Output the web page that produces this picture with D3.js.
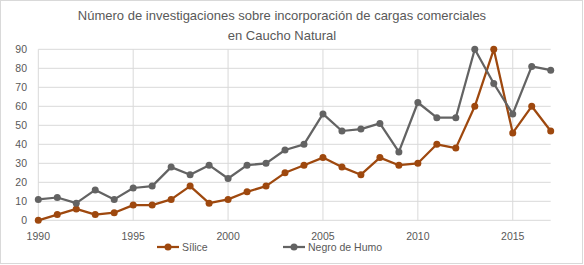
<!DOCTYPE html>
<html lang="es">
<head>
<meta charset="utf-8">
<title>cargas</title>
<script src="https://cdn.jsdelivr.net/npm/d3@7"></script>
<style>
  body { margin: 0; background: #fff; }
  text { font-family: "Liberation Sans", Arial, sans-serif; fill: #595959; }
</style>
</head>
<body>
<script>
var w = 584;
var h = 265;

var years = d3.range(1990, 2018);
var silice = [0, 3, 6, 3, 4, 8, 8, 11, 18, 9, 11, 15, 18, 25, 29, 33, 28, 24, 33, 29, 30, 40, 38, 60, 90, 46, 60, 47];
var negro = [11, 12, 9, 16, 11, 17, 18, 28, 24, 29, 22, 29, 30, 37, 40, 56, 47, 48, 51, 36, 62, 54, 54, 90, 72, 56, 81, 79];
var xTicks = [1990, 1995, 2000, 2005, 2010, 2015];
var yTicks = [0, 10, 20, 30, 40, 50, 60, 70, 80, 90];
var seriesNames = ["Sílice", "Negro de Humo"];
var colors = ["#9E480E", "#636363"];
var titleLines = ["Número  de investigaciones sobre incorporación de cargas comerciales", "en Caucho Natural"];

var xScale = d3.scaleLinear().domain([1990, 2017]).range([38.3, 550.7]);
var yScale = d3.scaleLinear().domain([0, 90]).range([220.3, 49.3]);

var svg = d3.select("body").append("svg")
    .attr("width", w)
    .attr("height", h);

// chart border
svg.append("rect")
    .attr("x", 0.5).attr("y", 0.5)
    .attr("width", w - 2).attr("height", h - 2)
    .attr("fill", "#fff")
    .attr("stroke", "#d9d9d9");

// gridlines
svg.selectAll("line.hgrid")
    .data(yTicks)
    .enter()
    .append("line")
    .attr("class", "hgrid")
    .attr("x1", xScale(1990)).attr("x2", xScale(2017))
    .attr("y1", function(d){ return yScale(d); })
    .attr("y2", function(d){ return yScale(d); })
    .attr("stroke", "#d9d9d9");

svg.selectAll("line.vgrid")
    .data(xTicks)
    .enter()
    .append("line")
    .attr("class", "vgrid")
    .attr("x1", function(d){ return xScale(d); })
    .attr("x2", function(d){ return xScale(d); })
    .attr("y1", yScale(0)).attr("y2", yScale(90))
    .attr("stroke", "#d9d9d9");

// tick labels
svg.selectAll("text.ylab")
    .data(yTicks)
    .enter()
    .append("text")
    .attr("class", "ylab")
    .attr("x", 27)
    .attr("y", function(d){ return yScale(d) + 4; })
    .attr("text-anchor", "end")
    .attr("font-size", "10.5px")
    .text(function(d){ return d; });

svg.selectAll("text.xlab")
    .data(xTicks)
    .enter()
    .append("text")
    .attr("class", "xlab")
    .attr("x", function(d){ return xScale(d); })
    .attr("y", 240)
    .attr("text-anchor", "middle")
    .attr("font-size", "10.5px")
    .text(function(d){ return d; });

// title
svg.selectAll("text.title")
    .data(titleLines)
    .enter()
    .append("text")
    .attr("class", "title")
    .attr("x", 282)
    .attr("y", function(d, i){ return 20 + i * 20; })
    .attr("text-anchor", "middle")
    .attr("font-size", "13px")
    .text(function(d){ return d; });

// series
var series = [silice, negro];
var line = d3.line()
    .x(function(d, i){ return xScale(years[i]); })
    .y(function(d){ return yScale(d); });

series.forEach(function(vals, k){
    svg.append("path")
        .datum(vals)
        .attr("d", line)
        .attr("fill", "none")
        .attr("stroke", colors[k])
        .attr("stroke-width", 2.25)
        .attr("stroke-linejoin", "round");
    svg.selectAll("circle.s" + k)
        .data(vals)
        .enter()
        .append("circle")
        .attr("class", "s" + k)
        .attr("cx", function(d, i){ return xScale(years[i]); })
        .attr("cy", function(d){ return yScale(d); })
        .attr("r", 3.5)
        .attr("fill", colors[k]);
});

// legend
var legendX = [157, 283];
var legend = svg.selectAll("g.legend")
    .data(seriesNames)
    .enter()
    .append("g")
    .attr("class", "legend")
    .attr("transform", function(d, i){ return "translate(" + legendX[i] + ",247)"; });
legend.append("line")
    .attr("x1", 0).attr("x2", 22)
    .attr("stroke", function(d, i){ return colors[i]; })
    .attr("stroke-width", 2.25);
legend.append("circle")
    .attr("cx", 11).attr("r", 3.5)
    .attr("fill", function(d, i){ return colors[i]; });
legend.append("text")
    .attr("x", 25).attr("y", 4)
    .attr("font-size", "10.5px")
    .text(function(d){ return d; });
</script>
</body>
</html>
